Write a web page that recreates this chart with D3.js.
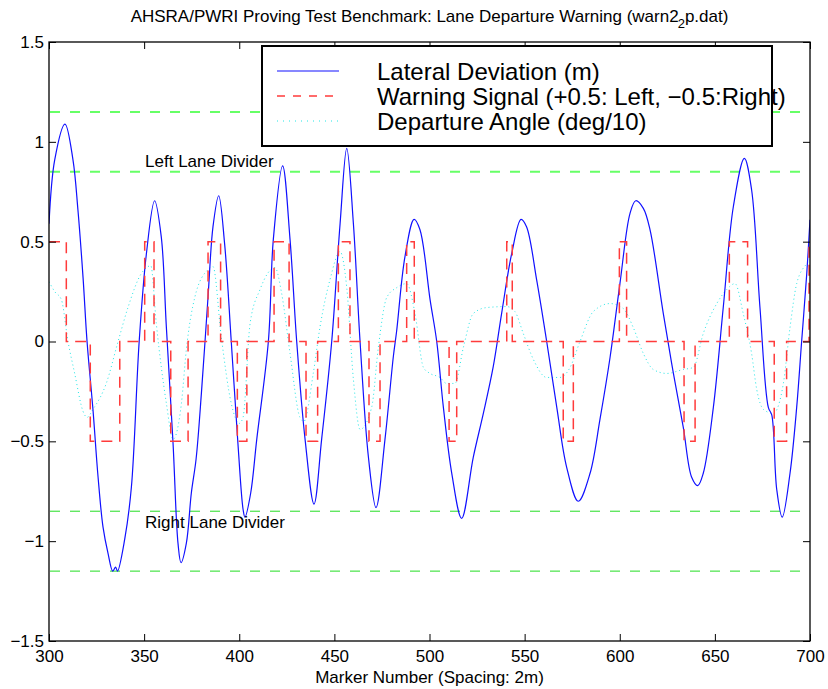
<!DOCTYPE html>
<html><head><meta charset="utf-8">
<script src="https://cdn.jsdelivr.net/npm/d3@7"></script>
<style>
html,body{margin:0;padding:0;background:#fff;}
svg text{font-family:"Liberation Sans",Arial,Helvetica,sans-serif;fill:#000;}
</style></head>
<body>
<svg id="chart" width="828" height="689"></svg>
<script>
// ---- data ----
const xTicks = [300,350,400,450,500,550,600,650,700];
const yTicks = [-1.5,-1,-0.5,0,0.5,1,1.5];
const yTickLabels = ["\u22121.5","\u22121","\u22120.5","0","0.5","1","1.5"];
const dividerLevels = [1.15, 0.85, -0.85, -1.15];

const lateralX = [300,303,308.4,312.6,315.2,317.9,320,323.1,325.8,328.4,331,333.5,335,336,339.8,343.3,347.4,351.2,355.5,359,361.7,365.2,367.8,369.4,372.2,374.8,377.3,380.1,383.6,386.2,389.2,392.3,395.8,399.3,402,403,406,409.2,415.3,417.9,422.8,426.7,430.2,434.6,439.3,443.3,448.6,453,456.5,460,463.5,467.9,471.9,476.6,481,482.7,487.1,491.9,495,500.3,503.8,507.3,511.7,516.9,523,528.3,533.5,537.9,543.2,548.1,551,556.3,561.6,566.9,572.1,578.2,584.4,589.6,594.9,600.1,605.4,608.4,612.4,615.9,622.9,628.2,633.4,637.8,641,643.9,649.2,654.4,659.7,665.5,669.3,673.7,678.1,679.9,682.5,685.4,689.5,693,695.6,698.3,700];
const lateralY = [0.59,0.91,1.089,0.91,0.66,0.32,0,-0.34,-0.68,-0.93,-1.06,-1.15,-1.13,-1.15,-0.99,-0.73,0,0.44,0.705,0.525,0.07,-0.51,-1.01,-1.108,-1.01,-0.76,-0.59,-0.26,0.224,0.575,0.73,0.49,0,-0.51,-0.84,-0.88,-0.76,-0.49,0,0.51,0.88,0.51,0,-0.49,-0.814,-0.49,0,0.59,0.967,0.59,0,-0.58,-0.832,-0.49,-0.075,0.05,0.425,0.612,0.56,0.21,0,-0.33,-0.66,-0.886,-0.58,-0.36,-0.126,0.14,0.44,0.612,0.575,0.31,0,-0.33,-0.63,-0.80,-0.66,-0.39,-0.08,0.29,0.642,0.705,0.667,0.56,0.14,-0.16,-0.43,-0.68,-0.722,-0.66,-0.33,0.17,0.675,0.917,0.76,0.17,-0.33,-0.368,-0.74,-0.88,-0.66,-0.33,0,0.34,0.61];

const warnX = [300,309.1,321.7,337.2,350.3,355.2,364,373.1,383.6,390.2,399,404,418.3,426.2,435.1,441.2,452.1,458.2,468.2,474,488,492,510.3,514.3,540.6,543.5,570.3,575.6,599.8,603.6,633.8,639.6,657.6,667.2,681.2,687.7,699.5,700];
const warnY = [0.5,0,-0.5,0,0.5,0,-0.5,0,0.5,0,-0.5,0,0.5,0,-0.5,0,0.5,0,-0.5,0,0.5,0,-0.5,0,0.5,0,-0.5,0,0.5,0,-0.5,0,0.5,0,-0.5,0,0.5,0.5];

const angleX = [300,303,306.5,310,313.5,317.9,320,323.1,330.1,336.3,341.5,348.5,352,353.5,356.4,361.7,365.2,369.6,372.2,376.6,383.6,386.2,390.6,395.8,400,402,405.7,410.9,418.8,422.3,426.7,431.9,434,438.9,442.4,447.7,453,456.5,460,463.5,469.6,473.1,477.5,482.8,488,492.4,496.8,500.3,505.5,509,513.4,517.8,523,530.1,540.6,544.9,549.3,554.6,561.6,568.6,573.9,579.1,586.1,594.9,601.9,607.1,612.4,617.6,624.7,633.4,638.7,643.9,651,656.2,660.6,664.9,669.3,672,675.5,680.7,686,689.5,693,698.3,700];
const angleY = [0.30,0.25,0.21,0.0,-0.16,-0.35,-0.38,-0.34,-0.21,0.0,0.17,0.34,0.375,0.38,0.09,-0.31,-0.49,-0.31,-0.04,0.22,0.36,0.375,0.02,-0.31,-0.41,-0.38,0.09,0.26,0.37,0.24,-0.06,-0.38,-0.40,-0.16,0.07,0.31,0.45,0.27,-0.19,-0.44,-0.33,-0.03,0.22,0.27,0.29,0.14,-0.13,-0.16,-0.18,-0.21,-0.21,-0.03,0.14,0.17,0.175,0.15,0.04,-0.09,-0.18,-0.18,-0.13,0.0,0.15,0.19,0.165,0.07,-0.06,-0.14,-0.16,-0.14,-0.13,0.04,0.19,0.26,0.29,0.14,-0.06,-0.24,-0.34,-0.36,-0.21,0.07,0.29,0.39,0.41];

const legendLabels = ["Lateral Deviation (m)","Warning Signal (+0.5: Left, \u22120.5:Right)","Departure Angle (deg/10)"];

// ---- layout ----
const svg = d3.select("#chart");
const L = 49, R = 810, T = 42, B = 641;
const FS = 17;
const x = d3.scaleLinear().domain([300,700]).range([L,R]);
const y = d3.scaleLinear().domain([-1.5,1.5]).range([B,T]);

svg.append("defs").append("clipPath").attr("id","clip")
  .append("rect").attr("x",L).attr("y",T).attr("width",R-L).attr("height",B-T);

const plot = svg.append("g").attr("clip-path","url(#clip)");

// lane divider lines
plot.selectAll("line.div").data(dividerLevels).enter().append("line")
  .attr("x1",L).attr("x2",R)
  .attr("y1",d=>y(d)).attr("y2",d=>y(d))
  .attr("stroke",d=>d>0?"#66ff66":"#22dd22")
  .attr("stroke-width",d=>d>0?2:1)
  .attr("stroke-dasharray","10,10")
  .attr("stroke-dashoffset",-1);

const zip = (a,b)=>a.map((v,i)=>[v,b[i]]);

// departure angle (cyan dotted)
plot.append("path").datum(zip(angleX,angleY))
  .attr("fill","none").attr("stroke","#22e6e6").attr("stroke-width",1)
  .attr("stroke-dasharray","1,3")
  .attr("d", d3.line().x(d=>x(d[0])).y(d=>y(d[1])).curve(d3.curveMonotoneX));

// lateral deviation (blue solid)
plot.append("path").datum(zip(lateralX,lateralY))
  .attr("fill","none").attr("stroke","#1010ff").attr("stroke-width",1.2)
  .attr("d", d3.line().x(d=>x(d[0])).y(d=>y(d[1])).curve(d3.curveCatmullRom.alpha(0.5)));

// warning signal (red dashed steps)
plot.append("path").datum(zip(warnX,warnY))
  .attr("fill","none").attr("stroke","#ff3b3b").attr("stroke-width",1.5)
  .attr("stroke-dasharray","11,7")
  .attr("d", d3.line().x(d=>x(d[0])).y(d=>y(d[1])).curve(d3.curveStepAfter));

// divider labels
svg.append("text").attr("x",x(350.5)).attr("y",167).attr("font-size",FS).text("Left Lane Divider");
svg.append("text").attr("x",x(350.5)).attr("y",528).attr("font-size",FS).text("Right Lane Divider");

// axes frame and ticks
const axisBottom = d3.axisBottom(x).tickValues(xTicks).tickSize(-7).tickPadding(9).tickFormat(d3.format("d"));
const axisTop = d3.axisTop(x).tickValues(xTicks).tickSize(-7).tickFormat("");
const axisLeft = d3.axisLeft(y).tickValues(yTicks).tickSize(-7).tickPadding(5).tickFormat((d,i)=>yTickLabels[i]);
const axisRight = d3.axisRight(y).tickValues(yTicks).tickSize(-7).tickFormat("");

function styleAxis(g){
  g.select(".domain").remove();
  g.selectAll(".tick line").attr("stroke","#000").attr("stroke-width",1);
  g.selectAll(".tick text").attr("font-size",FS).attr("fill","#000")
    .style("font-family","'Liberation Sans',Arial,sans-serif");
}
svg.append("g").attr("transform",`translate(0,${B})`).call(axisBottom).call(styleAxis);
svg.append("g").attr("transform",`translate(0,${T})`).call(axisTop).call(styleAxis);
svg.append("g").attr("transform",`translate(${L},0)`).call(axisLeft).call(styleAxis);
svg.append("g").attr("transform",`translate(${R},0)`).call(axisRight).call(styleAxis);
svg.append("rect").attr("x",L).attr("y",T).attr("width",R-L).attr("height",B-T)
  .attr("fill","none").attr("stroke","#000").attr("stroke-width",1.3);

// title
const title = svg.append("text").attr("x",(L+R)/2).attr("y",22).attr("text-anchor","middle").attr("font-size",FS);
title.append("tspan").text("AHSRA/PWRI Proving Test Benchmark: Lane Departure Warning (warn2");
title.append("tspan").attr("dy",6).attr("dx",-1).attr("font-size",13).text("2");
title.append("tspan").attr("dy",-6).text("p.dat)");

// x label
svg.append("text").attr("x",(L+R)/2).attr("y",683).attr("text-anchor","middle").attr("font-size",FS)
  .text("Marker Number (Spacing: 2m)");

// legend
const lg = svg.append("g");
lg.append("rect").attr("x",262).attr("y",46).attr("width",510).attr("height",100)
  .attr("fill","#fff").attr("stroke","#000").attr("stroke-width",2);
const lgStyles = [
  {stroke:"#1010ff", dash:null, w:1.2},
  {stroke:"#ff3b3b", dash:"8,8", w:1.5},
  {stroke:"#22e6e6", dash:"1,5", w:1}
];
legendLabels.forEach((lab,i)=>{
  const yy = 71 + i*25;
  lg.append("line").attr("x1",277).attr("x2",339).attr("y1",yy).attr("y2",yy)
    .attr("stroke",lgStyles[i].stroke).attr("stroke-width",lgStyles[i].w)
    .attr("stroke-dasharray",lgStyles[i].dash);
  lg.append("text").attr("x",377).attr("y",yy+9).attr("font-size",24).text(lab);
});
</script>
</body></html>
